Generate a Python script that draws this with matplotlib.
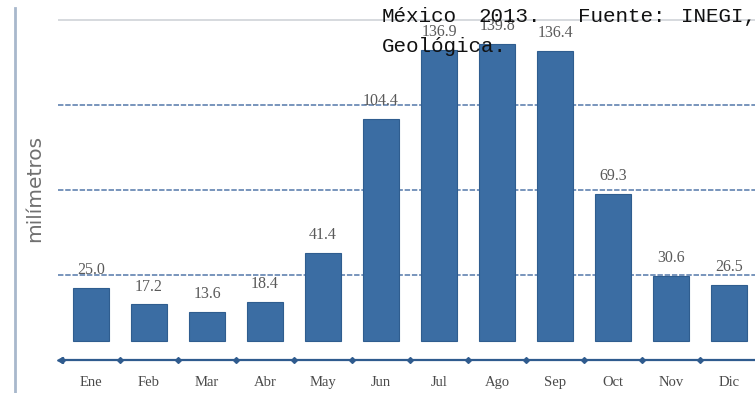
import matplotlib
matplotlib.use("Agg")
import matplotlib.pyplot as plt
import numpy as np

# precipitacion mensual (mm)
meses = ['Ene', 'Feb', 'Mar', 'Abr', 'May', 'Jun', 'Jul', 'Ago', 'Sep', 'Oct', 'Nov', 'Dic']
lluvia = [25.0, 17.2, 13.6, 18.4, 41.4, 104.4, 136.9, 139.8, 136.4, 69.3, 30.6, 26.5]
lineas_guia = [40, 80, 120]
linea_sup = 160

W, H = 755, 393
fig = plt.figure(figsize=(W / 100, H / 100), dpi=100)
fig.patch.set_facecolor('white')

# ejes en pixeles: x de 58 a 758, cero en y=360, 2.125 px por mm
x0, x1 = -0.57, 11.5
px_cat = 58.0
left = 58
ancho = (x1 - x0) * px_cat
ymax = 168
alto = ymax * 2.125
ax = fig.add_axes([left / W, (H - 360) / H, ancho / W, alto / H])
ax.set_xlim(x0, x1)
ax.set_ylim(0, ymax)
ax.axis('off')

# guias horizontales
for g in lineas_guia:
    ax.hlines(g, x0, x1, colors='#6d8cb6', linestyles=(0, (3, 1)), linewidth=1.3)
ax.hlines(linea_sup, x0, x1, colors='#cfd3d8', linewidth=1.2)

pos = np.arange(len(meses))
base = 9
barras = ax.bar(pos, lluvia, width=0.62, bottom=base, color='#3b6da3',
                edgecolor='#2f5d8f', linewidth=0.8, zorder=3)

for b, v in zip(barras, lluvia):
    ax.annotate('%.1f' % v, (b.get_x() + b.get_width() / 2, base + v),
                xytext=(0, 7), textcoords='offset points', ha='center', va='bottom',
                fontsize=11.5, family='Liberation Serif', color='#5a5a5a', zorder=4)

# eje x con marcas entre categorias
bordes = np.arange(-0.5, 12, 1.0)
ax.plot([x0 + 0.04, x1], [0, 0], color='#2f5b8e', linewidth=1.6, zorder=3, clip_on=False)
ax.plot(bordes, np.zeros_like(bordes), linestyle='none', marker='D', markersize=3,
        color='#2f5b8e', zorder=3, clip_on=False)
ax.plot([x0 + 0.04], [0], marker='<', markersize=4, color='#2f5b8e', clip_on=False)

for i, m in enumerate(meses):
    ax.text(i, -10.5, m, ha='center', va='center', fontsize=10.5,
            family='Liberation Serif', color='#4a4a4a')

# borde de pagina y etiqueta del eje y
fig.add_artist(plt.Line2D([15 / W, 15 / W], [0, 1 - 8 / H], color='#a8b8cc', linewidth=2))
fig.text(35 / W, 1 - 188 / H, 'milímetros', rotation=90, ha='center', va='center',
         fontsize=14.5, color='#707070', family='DejaVu Sans')

# texto del documento encima
mono = dict(family='Liberation Mono', fontsize=15, color='#111111', va='center', ha='left')
for palabra, xp in [('México', 382), ('2013.', 478), ('Fuente:', 578), ('INEGI,', 681)]:
    fig.text(xp / W, 1 - 17 / H, palabra, **mono)
fig.text(382 / W, 1 - 47 / H, 'Geológica.', **mono)

fig.savefig('out.png', dpi=100, facecolor='white')
